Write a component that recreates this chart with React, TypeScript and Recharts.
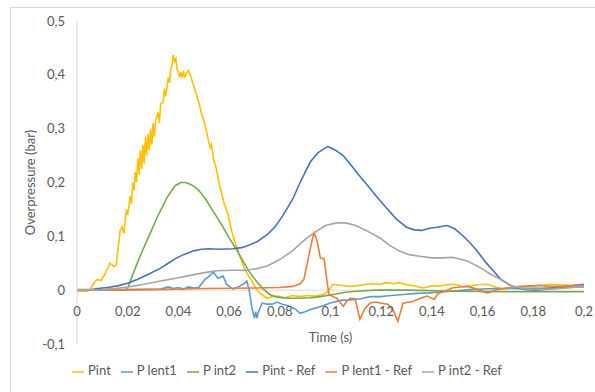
import { LineChart, Line, XAxis, YAxis, CartesianGrid, Legend } from 'recharts';

const X_TICKS = [0, 0.02, 0.04, 0.06, 0.08, 0.1, 0.12, 0.14, 0.16, 0.18, 0.2];
const Y_TICKS = [-0.1, 0, 0.1, 0.2, 0.3, 0.4, 0.5];

// [time (s), overpressure (bar)]
const PINT: [number, number][] = [
  [0, -0.002], [0.004, -0.002], [0.005, 0], [0.007, 0.015], [0.008, 0.02], [0.0095, 0.018],
  [0.011, 0.03], [0.013, 0.05], [0.0145, 0.044], [0.0155, 0.047], [0.017, 0.11], [0.0178, 0.118],
  [0.0185, 0.105], [0.0195, 0.15], [0.02, 0.14], [0.021, 0.175], [0.0215, 0.16], [0.022, 0.2],
  [0.0225, 0.185], [0.023, 0.22], [0.0235, 0.2], [0.024, 0.245], [0.0245, 0.215], [0.025, 0.26],
  [0.0255, 0.225], [0.026, 0.27], [0.0265, 0.235], [0.027, 0.285], [0.0275, 0.25], [0.028, 0.29],
  [0.0285, 0.26], [0.029, 0.3], [0.0295, 0.27], [0.03, 0.31], [0.0305, 0.285], [0.031, 0.315],
  [0.032, 0.33], [0.0325, 0.31], [0.033, 0.345], [0.034, 0.35], [0.0345, 0.375], [0.035, 0.36],
  [0.036, 0.395], [0.0365, 0.385], [0.037, 0.41], [0.0375, 0.42], [0.038, 0.437], [0.0385, 0.425],
  [0.039, 0.43], [0.0395, 0.41], [0.04, 0.405], [0.0405, 0.395], [0.041, 0.405], [0.0415, 0.395],
  [0.042, 0.408], [0.0425, 0.395], [0.043, 0.402], [0.044, 0.408], [0.045, 0.395], [0.046, 0.38],
  [0.047, 0.365], [0.048, 0.35], [0.049, 0.33], [0.05, 0.315], [0.051, 0.297], [0.052, 0.275],
  [0.0525, 0.265], [0.053, 0.27], [0.054, 0.24], [0.055, 0.225], [0.056, 0.2], [0.057, 0.18],
  [0.058, 0.162], [0.0595, 0.142], [0.061, 0.11], [0.063, 0.079], [0.0645, 0.06], [0.066, 0.041],
  [0.0675, 0.028], [0.069, 0.017], [0.0705, 0.004], [0.072, -0.005], [0.075, -0.015], [0.077, -0.012],
  [0.079, -0.011], [0.082, -0.014], [0.085, -0.01], [0.088, -0.012], [0.091, -0.01], [0.094, -0.011],
  [0.097, -0.008], [0.0985, -0.005], [0.101, 0.011], [0.104, 0.009], [0.107, 0.007], [0.11, 0.008],
  [0.113, 0.01], [0.116, 0.012], [0.1195, 0.011], [0.122, 0.014], [0.125, 0.012], [0.127, 0.014],
  [0.13, 0.01], [0.133, 0.008], [0.1365, 0.004], [0.14, 0.008], [0.143, 0.008], [0.146, 0.01],
  [0.148, 0.011], [0.15, 0.01], [0.152, 0.006], [0.155, 0.008], [0.158, 0.01], [0.162, 0.011],
  [0.165, 0.006], [0.168, 0.002], [0.171, 0.004], [0.175, 0.006], [0.18, 0.007], [0.184, 0.009],
  [0.1866, 0.011], [0.19, 0.01], [0.195, 0.009], [0.2, 0.009],
];

const P_LENT1: [number, number][] = [
  [0, 0.001], [0.02, 0.001], [0.033, 0.002], [0.036, 0.006], [0.038, 0.003], [0.04, 0.005],
  [0.042, 0.002], [0.044, 0.006], [0.046, 0.004], [0.048, 0.005], [0.0505, 0.02], [0.052, 0.025],
  [0.0537, 0.034], [0.0556, 0.022], [0.0576, 0.026], [0.059, 0.011], [0.0615, 0.002], [0.064, 0.007],
  [0.066, 0.012], [0.067, 0.017], [0.068, -0.002], [0.069, -0.033], [0.07, -0.052], [0.0705, -0.04],
  [0.071, -0.052], [0.0714, -0.043], [0.073, -0.024], [0.075, -0.026], [0.077, -0.026], [0.079, -0.022],
  [0.081, -0.026], [0.084, -0.03], [0.086, -0.035], [0.088, -0.043], [0.09, -0.04], [0.092, -0.036],
  [0.095, -0.032], [0.097, -0.029], [0.1, -0.024], [0.104, -0.019], [0.108, -0.018], [0.112, -0.016],
  [0.1156, -0.012], [0.1195, -0.012], [0.124, -0.01], [0.1286, -0.008], [0.134, -0.006], [0.139, -0.005],
  [0.144, -0.003], [0.148, -0.002], [0.155, 0.001], [0.165, 0.003], [0.175, 0.003], [0.185, 0.004],
  [0.2, 0.006],
];

const P_INT2: [number, number][] = [
  [0, 0], [0.019, 0], [0.02, 0.004], [0.023, 0.041], [0.0255, 0.07], [0.0276, 0.092], [0.0316, 0.135],
  [0.0355, 0.172], [0.0387, 0.194], [0.041, 0.2], [0.043, 0.2], [0.045, 0.196], [0.047, 0.19],
  [0.049, 0.18], [0.051, 0.167], [0.053, 0.152], [0.055, 0.137], [0.0575, 0.118], [0.06, 0.097],
  [0.063, 0.075], [0.0655, 0.054], [0.068, 0.034], [0.071, 0.015], [0.0735, 0.002], [0.076, -0.008],
  [0.079, -0.013], [0.083, -0.015], [0.088, -0.015], [0.092, -0.014], [0.096, -0.012], [0.101, -0.008],
  [0.106, -0.004], [0.11, -0.002], [0.118, 0], [0.13, 0], [0.15, -0.002], [0.17, -0.003], [0.2, -0.003],
];

const PINT_REF: [number, number][] = [
  [0, 0], [0.006, 0.001], [0.008, 0.003], [0.012, 0.005], [0.016, 0.008], [0.02, 0.013], [0.0237, 0.02],
  [0.028, 0.029], [0.033, 0.041], [0.036, 0.05], [0.039, 0.059], [0.042, 0.066], [0.046, 0.073],
  [0.049, 0.076], [0.052, 0.077], [0.056, 0.076], [0.0615, 0.077], [0.065, 0.079], [0.068, 0.084],
  [0.071, 0.09], [0.075, 0.103], [0.078, 0.117], [0.081, 0.137], [0.085, 0.168], [0.088, 0.2],
  [0.092, 0.238], [0.095, 0.255], [0.099, 0.267], [0.102, 0.26], [0.105, 0.25], [0.108, 0.233],
  [0.111, 0.215], [0.114, 0.198], [0.118, 0.175], [0.122, 0.153], [0.126, 0.132], [0.13, 0.117],
  [0.133, 0.112], [0.136, 0.111], [0.139, 0.115], [0.142, 0.117], [0.146, 0.12], [0.149, 0.114],
  [0.152, 0.102], [0.155, 0.088], [0.158, 0.072], [0.161, 0.053], [0.164, 0.037], [0.167, 0.021],
  [0.1705, 0.01], [0.1735, 0.004], [0.177, 0.001], [0.181, 0], [0.185, 0.002], [0.19, 0.005],
  [0.195, 0.008], [0.2, 0.011],
];

const P_LENT1_REF: [number, number][] = [
  [0, 0], [0.03, 0.001], [0.05, 0.003], [0.07, 0.004], [0.08, 0.005], [0.085, 0.007], [0.088, 0.012],
  [0.0895, 0.02], [0.091, 0.054], [0.0927, 0.092], [0.0935, 0.107], [0.0947, 0.092], [0.096, 0.06],
  [0.0975, 0.058], [0.0986, 0.017], [0.0994, -0.008], [0.101, -0.012], [0.1025, -0.015], [0.105, -0.03],
  [0.1065, -0.02], [0.1077, -0.015], [0.1097, -0.016], [0.1116, -0.054], [0.1136, -0.034],
  [0.1156, -0.024], [0.118, -0.022], [0.1195, -0.024], [0.1227, -0.026], [0.125, -0.04], [0.1266, -0.058],
  [0.1286, -0.024], [0.1325, -0.021], [0.135, -0.016], [0.138, -0.011], [0.141, -0.017], [0.1424, -0.006],
  [0.145, -0.002], [0.148, 0.004], [0.151, 0.006], [0.154, 0.007], [0.157, 0.003], [0.16, -0.003],
  [0.162, -0.005], [0.165, 0], [0.167, 0.002], [0.171, 0.005], [0.175, 0.007], [0.179, 0.008],
  [0.1826, 0.009], [0.186, 0.007], [0.19, 0.007], [0.195, 0.008], [0.2, 0.009],
];

const P_INT2_REF: [number, number][] = [
  [0, 0], [0.01, 0.001], [0.015, 0.003], [0.02, 0.006], [0.0265, 0.011], [0.033, 0.017], [0.039, 0.022],
  [0.045, 0.028], [0.051, 0.033], [0.055, 0.036], [0.061, 0.037], [0.067, 0.037], [0.071, 0.04],
  [0.075, 0.045], [0.078, 0.052], [0.081, 0.06], [0.085, 0.073], [0.088, 0.086], [0.091, 0.098],
  [0.0947, 0.11], [0.098, 0.12], [0.1025, 0.125], [0.106, 0.125], [0.11, 0.12], [0.114, 0.111],
  [0.1195, 0.097], [0.123, 0.084], [0.127, 0.073], [0.131, 0.066], [0.135, 0.063], [0.14, 0.06],
  [0.144, 0.06], [0.148, 0.061], [0.151, 0.058], [0.154, 0.054], [0.157, 0.047], [0.16, 0.039],
  [0.163, 0.03], [0.167, 0.02], [0.17, 0.012], [0.172, 0.007], [0.1775, 0.002], [0.183, 0.001],
  [0.187, 0.002], [0.193, 0.004], [0.2, 0.007],
];

const SERIES = [
  { name: 'Pint', points: PINT, color: '#FFC000' },
  { name: 'P lent1', points: P_LENT1, color: '#5B9BD5' },
  { name: 'P int2', points: P_INT2, color: '#70AD47' },
  { name: 'Pint - Ref', points: PINT_REF, color: '#4472C4' },
  { name: 'P lent1 - Ref', points: P_LENT1_REF, color: '#ED7D31' },
  { name: 'P int2 - Ref', points: P_INT2_REF, color: '#A5A5A5' },
];
const LEGEND_ORDER = SERIES.map((s) => s.name);

const FONT = 'Lato, "Open Sans", sans-serif';
const TEXT = '#595959';

function fmt(v: number): string {
  return String(parseFloat(v.toFixed(2))).replace('.', ',');
}

// x labels sit under the zero line, not at the bottom of the plot
function XTick({ x, y, payload }: { x: number; y: number; payload: { value: number } }) {
  return (
    <text x={x} y={y - 36} textAnchor="middle" fill={TEXT} fontSize={13} fontFamily={FONT}>
      {fmt(payload.value)}
    </text>
  );
}

export default function App() {
  return (
    <div style={{ position: 'absolute', left: 0, top: 0, width: 595, height: 392, overflow: 'hidden', background: '#fff' }}>
      <div style={{ position: 'absolute', left: 10, top: 7, width: 620, height: 420, border: '1px solid #d9d9d9' }} />
      <LineChart
        width={595}
        height={392}
        margin={{ top: 21, right: 11, bottom: 14, left: 0 }}
        style={{ position: 'absolute', left: 0, top: 0 }}
      >
        <CartesianGrid vertical={false} horizontalValues={[0]} stroke="#d9d9d9" />
        <XAxis
          dataKey="t"
          type="number"
          domain={[0, 0.2]}
          ticks={X_TICKS}
          tick={XTick}
          axisLine={false}
          tickLine={false}
          height={18}
          label={{ value: 'Time (s)', position: 'top', offset: 2, fill: TEXT, fontSize: 13, fontFamily: FONT }}
        />
        <YAxis
          type="number"
          domain={[-0.1, 0.5]}
          ticks={Y_TICKS}
          tickFormatter={fmt}
          width={77}
          tickLine={false}
          tickMargin={6}
          axisLine={{ stroke: '#d9d9d9' }}
          tick={{ fill: TEXT, fontSize: 13, fontFamily: FONT }}
          label={{
            value: 'Overpressure (bar)',
            angle: -90,
            position: 'insideLeft',
            offset: 30,
            style: { textAnchor: 'middle' },
            fill: TEXT,
            fontSize: 13,
            fontFamily: FONT,
          }}
        />
        <Legend
          verticalAlign="bottom"
          iconType="plainline"
          iconSize={12}
          itemSorter={(item: { value: string }) => LEGEND_ORDER.indexOf(item.value)}
          wrapperStyle={{ fontFamily: FONT, fontSize: 13, color: TEXT }}
          formatter={(value: string) => <span style={{ color: TEXT }}>{value}</span>}
        />
        {SERIES.map((s) => (
          <Line
            key={s.name}
            name={s.name}
            data={s.points.map(([t, v]) => ({ t, v }))}
            dataKey="v"
            type="linear"
            stroke={s.color}
            strokeWidth={1.6}
            dot={false}
            isAnimationActive={false}
          />
        ))}
      </LineChart>
    </div>
  );
}
